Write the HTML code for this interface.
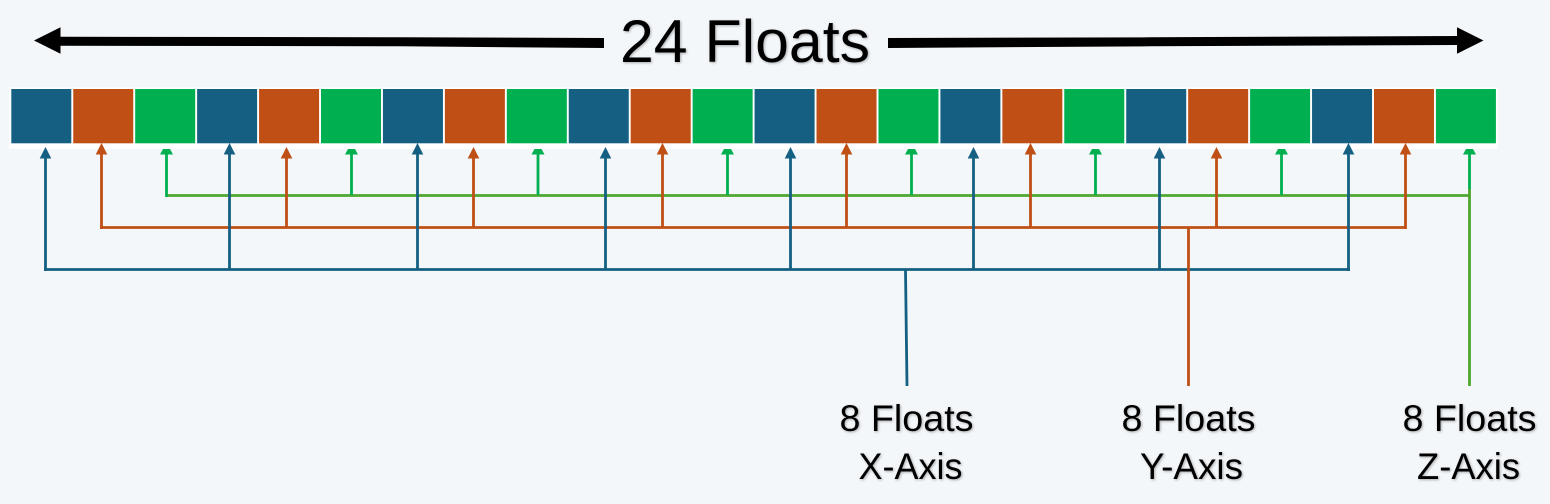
<!DOCTYPE html>
<html lang="en">
<head>
<meta charset="utf-8">
<title>24 Floats interleaved layout</title>
<style>
html,body{margin:0;padding:0;background:#f3f7fa;}
body{width:1550px;height:504px;overflow:hidden;}
svg{display:block;}
text{font-family:"Liberation Sans",sans-serif;fill:#000;filter:drop-shadow(1px 1.5px 1.2px rgba(0,0,0,.3));}
.b{fill:#156082}.o{fill:#c04f15}.g{fill:#00b050}
.bl{stroke:#156082;stroke-width:2.8;fill:none}
.ol{stroke:#c04f15;stroke-width:2.8;fill:none}
.gl{stroke:#00b050;stroke-width:2.8;fill:none}
.hl{stroke:#4ea72e;stroke-width:2.8;fill:none}
</style>
</head>
<body>
<svg width="1550" height="504" viewBox="0 0 1550 504" xmlns="http://www.w3.org/2000/svg">
<rect width="1550" height="504" fill="#f3f7fa"/>

<g>
<polygon points="34,40.5 60.5,27.3 60.5,53.7" fill="#000"/>
<polygon points="60,36.7 400,37.3 604,38 604,48 400,46.3 60,45.7" fill="#000"/>
<polygon points="888,38 1150,37.3 1458,36 1458,45 1150,46.3 888,48" fill="#000"/>
<polygon points="1483.5,40.5 1457,27.3 1457,53.7" fill="#000"/>
</g>
<text x="620" y="62" font-size="60" textLength="250" lengthAdjust="spacingAndGlyphs">24 Floats</text>

<rect x="9" y="87.3" width="1489" height="61.7" fill="#fff"/>

<g>
<rect class="b" x="11.3" y="89" width="60" height="54.3"/>
<rect class="o" x="73.24" y="89" width="60" height="54.3"/>
<rect class="g" x="135.18" y="89" width="60" height="54.3"/>
<rect class="b" x="197.12" y="89" width="60" height="54.3"/>
<rect class="o" x="259.06" y="89" width="60" height="54.3"/>
<rect class="g" x="321" y="89" width="60" height="54.3"/>
<rect class="b" x="382.94" y="89" width="60" height="54.3"/>
<rect class="o" x="444.88" y="89" width="60" height="54.3"/>
<rect class="g" x="506.82" y="89" width="60" height="54.3"/>
<rect class="b" x="568.76" y="89" width="60" height="54.3"/>
<rect class="o" x="630.7" y="89" width="60" height="54.3"/>
<rect class="g" x="692.64" y="89" width="60" height="54.3"/>
<rect class="b" x="754.58" y="89" width="60" height="54.3"/>
<rect class="o" x="816.52" y="89" width="60" height="54.3"/>
<rect class="g" x="878.46" y="89" width="60" height="54.3"/>
<rect class="b" x="940.4" y="89" width="60" height="54.3"/>
<rect class="o" x="1002.34" y="89" width="60" height="54.3"/>
<rect class="g" x="1064.28" y="89" width="60" height="54.3"/>
<rect class="b" x="1126.22" y="89" width="60" height="54.3"/>
<rect class="o" x="1188.16" y="89" width="60" height="54.3"/>
<rect class="g" x="1250.1" y="89" width="60" height="54.3"/>
<rect class="b" x="1312.04" y="89" width="60" height="54.3"/>
<rect class="o" x="1373.98" y="89" width="60" height="54.3"/>
<rect class="g" x="1435.92" y="89" width="60" height="54.3"/>
</g>

<g>
<path class="hl" d="M166 195.5H1470.5"/>
<path class="hl" d="M1469.5 189V386"/>
<path class="gl" d="M166.5 197V154M351.5 195V154M538 195V154M727.5 195V154M911.5 195V154M1095.5 195V154M1281.5 195V154M1469.5 189V154"/>
<path class="g" d="M163 149h7l3 5.5h-13zM348 149h7l3 5.5h-13zM534.5 149h7l3 5.5h-13zM724 149h7l3 5.5h-13zM908 149h7l3 5.5h-13zM1092 149h7l3 5.5h-13zM1278 149h7l3 5.5h-13zM1466 149h7l3 5.5h-13z"/>
</g>

<g>
<path class="ol" d="M100 227.5H1406.5"/>
<path class="ol" d="M101.5 229V154M286.5 227V158M473.5 227V158M662.5 227V154M846.5 227V154M1030.5 227V154M1216.5 227V158M1405.5 229V154"/>
<path class="o" d="M101.5 143l5.8 11.5h-11.6zM286.5 147l5.8 11.5h-11.6zM473.5 147l5.8 11.5h-11.6zM662.5 143l5.8 11.5h-11.6zM846.5 143l5.8 11.5h-11.6zM1030.5 143l5.8 11.5h-11.6zM1216.5 147l5.8 11.5h-11.6zM1405.5 143l5.8 11.5h-11.6z"/>
</g>

<g>
<path class="bl" d="M44 269.5H1350"/>
<path class="bl" d="M45.5 271V158M229.5 269V154M417.5 269V154M605.5 269V158M790.5 269V158M973.5 269V158M1159.5 269V158M1348.5 271V154"/>
<path class="b" d="M45.5 147l5.8 11.5h-11.6zM229.5 143l5.8 11.5h-11.6zM417.5 143l5.8 11.5h-11.6zM605.5 147l5.8 11.5h-11.6zM790.5 147l5.8 11.5h-11.6zM973.5 147l5.8 11.5h-11.6zM1159.5 147l5.8 11.5h-11.6zM1348.5 143l5.8 11.5h-11.6z"/>
<path class="bl" d="M905.5 270L907 386"/>
</g>

<path class="ol" d="M1188.5 228V386"/>

<text x="839.5" y="431" font-size="37" textLength="134" lengthAdjust="spacingAndGlyphs">8 Floats</text>
<text x="858.5" y="479" font-size="37" textLength="104" lengthAdjust="spacingAndGlyphs">X-Axis</text>
<text x="1121.5" y="431" font-size="37" textLength="134" lengthAdjust="spacingAndGlyphs">8 Floats</text>
<text x="1140" y="479" font-size="37" textLength="103" lengthAdjust="spacingAndGlyphs">Y-Axis</text>
<text x="1402.5" y="431" font-size="37" textLength="134" lengthAdjust="spacingAndGlyphs">8 Floats</text>
<text x="1417" y="479" font-size="37" textLength="103" lengthAdjust="spacingAndGlyphs">Z-Axis</text>
</svg>
</body>
</html>
